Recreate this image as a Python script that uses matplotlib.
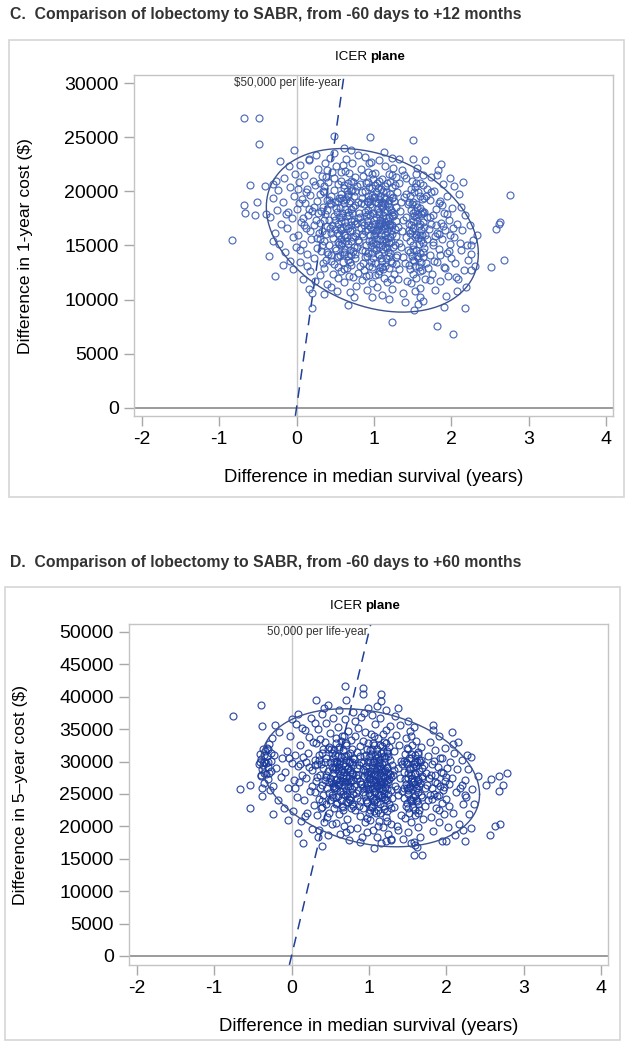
import numpy as np
import matplotlib
matplotlib.use("Agg")
import matplotlib.pyplot as plt
from matplotlib.patches import Rectangle

plt.rcParams['font.family'] = ['Liberation Sans', 'DejaVu Sans']

# ---- data: (difference in median survival [years], difference in cost [$k])

c_points = [
    # outliers
    (-0.68, 26.8), (-0.48, 26.8), (-0.49, 24.4), (0.49, 25.1), (0.95, 25.0), (1.51, 24.7),
    (-0.03, 23.8), (-0.21, 22.8), (0.16, 23.0), (-0.60, 20.6), (-0.41, 20.5), (-0.31, 20.7),
    (1.87, 22.5), (2.10, 19.8), (2.76, 19.7), (2.63, 17.2), (2.58, 16.5), (2.62, 17.0),
    (-0.83, 15.5), (-0.68, 18.7), (-0.66, 18.0), (-0.51, 19.0), (-0.53, 17.8), (-0.40, 17.9),
    (-0.36, 14.0), (-0.28, 12.2), (0.16, 11.0), (0.20, 9.2), (0.66, 9.5), (1.24, 7.9),
    (1.81, 7.6), (2.02, 6.8), (2.18, 9.2), (1.91, 9.3), (1.52, 9.0), (2.51, 13.0),
    (2.68, 13.7), (2.26, 12.7), (2.26, 15.0),
    # x -0.35..0
    (-0.34, 17.6), (-0.30, 19.4), (-0.28, 16.2), (-0.25, 18.3), (-0.24, 20.1), (-0.22, 15.1),
    (-0.20, 17.0), (-0.18, 19.0), (-0.16, 21.2), (-0.15, 14.4), (-0.12, 16.6), (-0.11, 18.1),
    (-0.09, 20.4), (-0.08, 13.6), (-0.06, 17.5), (-0.05, 15.8), (-0.03, 19.6), (-0.02, 21.6),
    (-0.01, 14.9), (-0.30, 15.4), (-0.26, 21.0), (-0.18, 13.2), (-0.10, 22.3), (-0.14, 17.9),
    (-0.04, 12.8),
    # x 0..0.3
    (0.01, 18.4), (0.02, 16.0), (0.03, 20.9), (0.04, 13.5), (0.05, 22.4), (0.06, 17.2),
    (0.07, 19.3), (0.08, 15.1), (0.09, 11.9), (0.10, 21.5), (0.11, 18.9), (0.12, 16.6),
    (0.13, 14.2), (0.14, 20.2), (0.15, 17.8), (0.16, 22.9), (0.17, 12.6), (0.18, 19.7),
    (0.19, 15.6), (0.20, 18.2), (0.21, 21.0), (0.22, 13.8), (0.23, 16.9), (0.24, 20.6),
    (0.25, 17.4), (0.26, 14.8), (0.27, 19.1), (0.28, 22.1), (0.29, 16.2), (0.30, 12.3),
    (0.03, 18.9), (0.08, 17.5), (0.12, 19.9), (0.18, 16.3), (0.22, 18.6), (0.27, 15.7),
    (0.05, 14.6), (0.14, 13.1), (0.20, 10.6), (0.25, 23.4), (0.10, 16.9), (0.16, 18.4),
    (0.28, 18.0), (0.02, 20.2), (0.24, 11.7),
    # x 0.3..0.55
    (0.31, 17.1), (0.31, 19.8), (0.32, 14.5), (0.33, 21.4), (0.33, 16.3), (0.34, 18.6),
    (0.35, 12.9), (0.35, 20.5), (0.36, 15.4), (0.37, 17.9), (0.37, 22.6), (0.38, 13.7),
    (0.39, 19.2), (0.39, 16.8), (0.40, 11.4), (0.40, 18.3), (0.41, 20.9), (0.42, 15.0),
    (0.42, 17.4), (0.43, 23.1), (0.44, 14.1), (0.44, 19.6), (0.45, 16.2), (0.45, 18.8),
    (0.46, 21.8), (0.47, 12.4), (0.47, 15.7), (0.48, 17.7), (0.48, 20.1), (0.49, 13.3),
    (0.50, 16.5), (0.50, 19.0), (0.51, 22.3), (0.51, 14.6), (0.52, 18.1), (0.52, 10.8),
    (0.53, 15.3), (0.53, 20.7), (0.54, 17.0), (0.54, 12.0), (0.55, 19.4), (0.55, 16.0),
    (0.32, 18.2), (0.34, 13.4), (0.36, 19.9), (0.38, 16.1), (0.41, 14.2), (0.43, 18.9),
    (0.46, 16.9), (0.49, 21.2), (0.52, 13.9), (0.30, 20.8), (0.44, 11.2), (0.48, 23.5),
    (0.40, 22.0), (0.36, 10.5), (0.50, 17.4), (0.45, 13.6), (0.38, 21.3), (0.33, 15.0),
    # x 0.55..0.8
    (0.56, 14.1), (0.56, 18.5), (0.57, 21.0), (0.57, 16.4), (0.58, 12.6), (0.58, 19.8),
    (0.59, 15.2), (0.59, 17.6), (0.60, 22.4), (0.60, 13.5), (0.61, 18.9), (0.61, 16.0),
    (0.62, 20.3), (0.62, 11.6), (0.63, 14.7), (0.63, 17.2), (0.64, 19.3), (0.64, 23.0),
    (0.65, 15.8), (0.65, 12.9), (0.66, 18.1), (0.66, 20.8), (0.67, 16.6), (0.67, 14.0),
    (0.68, 21.7), (0.68, 17.8), (0.69, 10.7), (0.69, 19.1), (0.70, 15.4), (0.70, 13.2),
    (0.71, 18.4), (0.71, 16.9), (0.72, 20.1), (0.72, 22.6), (0.73, 14.5), (0.73, 12.1),
    (0.74, 17.3), (0.74, 19.6), (0.75, 15.9), (0.75, 21.3), (0.76, 18.7), (0.76, 13.8),
    (0.77, 16.2), (0.77, 11.3), (0.78, 20.5), (0.78, 14.9), (0.79, 17.5), (0.79, 23.4),
    (0.80, 19.0), (0.80, 12.5), (0.57, 15.6), (0.60, 19.2), (0.63, 21.9), (0.66, 13.7),
    (0.69, 16.3), (0.72, 18.0), (0.75, 14.2), (0.78, 17.1), (0.58, 17.3), (0.61, 14.4),
    (0.64, 16.8), (0.67, 19.6), (0.70, 21.0), (0.73, 15.8), (0.76, 20.0), (0.79, 15.5),
    (0.62, 24.0), (0.74, 10.2), (0.68, 12.2), (0.71, 23.8),
    # x 0.8..1.0
    (0.81, 15.3), (0.81, 18.0), (0.82, 20.7), (0.82, 13.1), (0.83, 16.6), (0.83, 22.1),
    (0.84, 11.8), (0.84, 19.4), (0.85, 14.6), (0.85, 17.2), (0.86, 21.4), (0.86, 15.9),
    (0.87, 12.7), (0.87, 18.8), (0.88, 16.3), (0.88, 20.0), (0.89, 13.9), (0.89, 23.2),
    (0.90, 17.7), (0.90, 15.0), (0.91, 19.1), (0.91, 10.9), (0.92, 16.9), (0.92, 21.8),
    (0.93, 14.3), (0.93, 18.3), (0.94, 12.3), (0.94, 20.4), (0.95, 16.0), (0.95, 17.8),
    (0.96, 22.7), (0.96, 13.5), (0.97, 19.7), (0.97, 15.5), (0.98, 18.6), (0.98, 11.5),
    (0.99, 16.4), (0.99, 21.1), (1.00, 14.8), (1.00, 17.4), (0.82, 17.6), (0.85, 19.9),
    (0.88, 14.5), (0.91, 17.3), (0.94, 15.4), (0.97, 17.0), (1.00, 19.5), (0.84, 16.1),
    (0.87, 16.9), (0.90, 20.8), (0.93, 16.5), (0.96, 15.0), (0.99, 13.8), (0.86, 13.4),
    (0.92, 19.0), (0.98, 20.3), (0.83, 18.9), (0.89, 18.1), (0.95, 19.3), (0.90, 12.2),
    (0.94, 22.6), (0.97, 10.2),
    # x 1.0..1.3
    (1.01, 16.2), (1.01, 19.0), (1.02, 13.4), (1.02, 21.7), (1.03, 17.6), (1.03, 15.1),
    (1.04, 11.2), (1.04, 18.4), (1.05, 20.3), (1.05, 14.2), (1.06, 16.8), (1.06, 22.9),
    (1.07, 12.6), (1.07, 17.9), (1.08, 19.6), (1.08, 15.6), (1.09, 13.8), (1.09, 18.7),
    (1.10, 21.1), (1.10, 16.4), (1.11, 10.4), (1.11, 17.2), (1.12, 14.7), (1.12, 20.0),
    (1.13, 18.1), (1.13, 12.0), (1.14, 16.0), (1.14, 22.3), (1.15, 19.3), (1.15, 13.1),
    (1.16, 17.5), (1.16, 15.3), (1.17, 20.8), (1.17, 11.6), (1.18, 18.9), (1.18, 14.4),
    (1.19, 16.7), (1.19, 21.6), (1.20, 12.9), (1.20, 17.0), (1.21, 19.8), (1.21, 15.8),
    (1.22, 13.6), (1.22, 18.3), (1.23, 16.1), (1.23, 23.1), (1.24, 11.0), (1.24, 20.4),
    (1.25, 14.9), (1.25, 17.7), (1.26, 19.1), (1.26, 12.4), (1.27, 16.5), (1.27, 15.0),
    (1.28, 18.6), (1.28, 21.3), (1.29, 13.3), (1.29, 17.3), (1.30, 14.1), (1.30, 19.9),
    (1.02, 17.0), (1.05, 18.9), (1.08, 16.9), (1.11, 15.5), (1.14, 18.8), (1.17, 16.3),
    (1.20, 15.2), (1.23, 19.4), (1.26, 17.9), (1.29, 15.9), (1.03, 19.9), (1.06, 14.9),
    (1.09, 16.0), (1.12, 17.8), (1.15, 16.6), (1.18, 17.3), (1.21, 14.3), (1.24, 16.9),
    (1.27, 20.6), (1.04, 16.4), (1.10, 13.0), (1.16, 19.9), (1.22, 11.9), (1.28, 13.9),
    (1.07, 21.0), (1.13, 23.6), (1.19, 10.1), (1.25, 22.2),
    # x 1.3..1.45
    (1.31, 16.7), (1.32, 20.8), (1.33, 12.8), (1.34, 18.2), (1.35, 14.9), (1.36, 22.0),
    (1.37, 10.6), (1.38, 17.4), (1.39, 19.5), (1.40, 13.4), (1.41, 15.8), (1.42, 21.2),
    (1.43, 11.7), (1.44, 18.8), (1.32, 15.2), (1.35, 19.0), (1.38, 13.9), (1.41, 17.6),
    (1.44, 14.6), (1.33, 23.0), (1.40, 9.8), (1.36, 16.3), (1.42, 19.8), (1.31, 11.9),
    (1.39, 21.5),
    # x 1.45..1.7
    (1.46, 13.2), (1.46, 17.0), (1.47, 19.6), (1.47, 15.4), (1.48, 11.5), (1.48, 18.3),
    (1.49, 14.0), (1.49, 21.0), (1.50, 16.6), (1.50, 12.4), (1.51, 19.0), (1.51, 15.0),
    (1.52, 17.7), (1.52, 13.6), (1.53, 20.4), (1.53, 10.8), (1.54, 16.1), (1.54, 18.8),
    (1.55, 14.6), (1.55, 12.0), (1.56, 17.3), (1.56, 22.2), (1.57, 15.7), (1.57, 19.9),
    (1.58, 13.0), (1.58, 16.8), (1.59, 18.5), (1.59, 11.1), (1.60, 14.3), (1.60, 20.8),
    (1.61, 16.4), (1.61, 17.9), (1.62, 12.7), (1.62, 19.3), (1.63, 15.2), (1.63, 13.9),
    (1.64, 17.2), (1.64, 21.5), (1.65, 14.8), (1.65, 18.1), (1.66, 11.9), (1.66, 16.0),
    (1.67, 19.6), (1.67, 13.4), (1.68, 15.6), (1.68, 17.6), (1.69, 20.2), (1.70, 12.9),
    (1.47, 16.2), (1.50, 18.0), (1.53, 15.8), (1.56, 14.0), (1.59, 16.0), (1.62, 18.2),
    (1.65, 16.7), (1.48, 20.2), (1.54, 21.6), (1.60, 10.2), (1.57, 9.6), (1.63, 9.9),
    (1.51, 23.0), (1.66, 22.9),
    # x 1.7..2.0
    (1.71, 16.5), (1.72, 19.2), (1.73, 14.1), (1.74, 21.3), (1.75, 12.4), (1.76, 17.8),
    (1.77, 15.3), (1.78, 20.0), (1.79, 10.9), (1.80, 18.4), (1.81, 13.5), (1.82, 16.2),
    (1.83, 22.0), (1.84, 14.7), (1.85, 19.1), (1.86, 11.7), (1.87, 17.1), (1.88, 15.6),
    (1.89, 20.7), (1.90, 13.0), (1.91, 18.0), (1.92, 16.4), (1.93, 10.3), (1.94, 14.3),
    (1.95, 19.6), (1.96, 12.2), (1.97, 17.4), (1.98, 15.1), (1.99, 21.2), (2.00, 13.8),
    (1.74, 17.0), (1.79, 15.9), (1.84, 18.9), (1.89, 16.8), (1.94, 17.9), (1.99, 16.0),
    (1.72, 11.8), (1.82, 21.5), (1.92, 12.9), (1.97, 14.5),
    # x 2.0..2.35
    (2.01, 18.5), (2.03, 15.8), (2.05, 13.4), (2.07, 17.0), (2.09, 11.9), (2.12, 14.6),
    (2.14, 16.4), (2.16, 12.7), (2.18, 17.8), (2.20, 15.0), (2.22, 13.7), (2.24, 16.9),
    (2.26, 14.2), (2.28, 15.5), (2.31, 13.1), (2.33, 16.0), (2.04, 20.5), (2.08, 10.8),
    (2.13, 18.6), (2.19, 11.2), (2.02, 16.6), (2.11, 15.2), (2.06, 12.1), (2.15, 20.9),
]

# the darker cores of the 1-year cloud
c_points_core = [
    (0.91, 14.0), (0.92, 17.9), (0.93, 20.9), (0.94, 13.1), (0.95, 18.8), (0.96, 16.7),
    (0.97, 21.6), (0.98, 14.3), (0.99, 18.0), (1.00, 16.0), (1.01, 12.3), (1.02, 19.5),
    (1.03, 14.6), (1.04, 20.8), (1.05, 16.5), (1.06, 18.1), (1.07, 14.1), (1.08, 17.4),
    (1.09, 20.2), (1.10, 15.0), (1.11, 18.6), (1.12, 12.8), (1.13, 16.8), (1.14, 14.9),
    (1.15, 20.5), (1.16, 13.8), (1.17, 18.2), (1.18, 15.7), (1.19, 19.2), (1.20, 18.6),
    (1.21, 16.9), (1.22, 15.3), (1.23, 17.8), (1.24, 13.4), (1.25, 19.5), (1.04, 15.6),
    (1.08, 13.0), (1.12, 18.9), (1.16, 16.9), (1.20, 14.0), (1.24, 18.1), (0.93, 19.6),
    (0.97, 13.0), (1.01, 20.6), (1.05, 12.4), (1.09, 17.0), (1.13, 19.5), (1.17, 14.8),
    (1.21, 20.9), (1.03, 16.3), (1.07, 19.3), (1.11, 13.6), (1.15, 15.6), (1.19, 17.6),
    (1.23, 21.5), (0.99, 15.2), (1.06, 17.1), (1.14, 17.2), (1.22, 16.4), (1.10, 19.0),
    (0.50, 14.8), (0.51, 18.5), (0.52, 16.2), (0.53, 19.1), (0.54, 14.0), (0.55, 17.6),
    (0.56, 16.6), (0.57, 19.4), (0.58, 15.0), (0.59, 18.0), (0.60, 16.7), (0.61, 20.6),
    (0.62, 14.2), (0.63, 18.4), (0.64, 15.4), (0.65, 17.7), (0.66, 19.8), (0.67, 15.1),
    (0.68, 18.9), (0.69, 14.6), (0.70, 17.3), (0.71, 20.0), (0.72, 16.4), (0.73, 18.6),
    (0.74, 14.9), (0.75, 17.0), (0.53, 13.0), (0.57, 21.8), (0.61, 12.8), (0.65, 20.0),
    (0.69, 13.5), (0.73, 20.9), (0.55, 15.1), (0.63, 16.0), (0.71, 14.1),
    (1.45, 16.4), (1.46, 19.0), (1.47, 14.4), (1.48, 16.9), (1.49, 18.8), (1.50, 14.7),
    (1.51, 17.3), (1.52, 19.9), (1.53, 13.1), (1.54, 17.6), (1.55, 16.0), (1.56, 18.6),
    (1.57, 13.8), (1.58, 15.1), (1.59, 19.6), (1.60, 17.0), (1.61, 13.5), (1.62, 16.0),
    (1.63, 18.0), (1.64, 14.4), (1.49, 16.3), (1.53, 18.2), (1.57, 17.9), (1.61, 15.5),
    (1.47, 12.8), (1.55, 20.8), (1.63, 20.6), (1.51, 13.7), (1.59, 12.6), (1.65, 19.4),
    (0.31, 15.6), (0.35, 17.4), (0.39, 14.4), (0.43, 16.6), (0.34, 20.0), (0.42, 19.2),
    (1.72, 17.6), (1.76, 15.0), (1.80, 16.9), (1.84, 16.1), (1.88, 18.7), (1.78, 13.6),
    (1.86, 14.1), (1.74, 19.9),
]

d_points = [
    # outliers
    (-0.75, 37.0), (-0.40, 38.7), (-0.38, 35.5), (0.69, 41.6), (0.92, 41.4), (0.92, 40.5),
    (1.16, 40.4), (1.16, 39.4), (0.32, 39.5), (0.71, 39.5), (1.38, 38.2), (0.47, 38.7),
    (0.08, 37.3), (-0.67, 25.8), (-0.53, 26.4), (-0.53, 22.8), (-0.38, 24.7), (-0.24, 21.9),
    (0.15, 17.4), (0.40, 17.0), (1.07, 16.6), (1.58, 15.6), (1.69, 15.6), (2.24, 17.8),
    (2.57, 18.7), (2.63, 20.0), (2.69, 20.4), (2.32, 19.7), (2.32, 30.7), (2.58, 27.3),
    (2.68, 27.8), (2.78, 28.3), (2.73, 26.4), (2.68, 25.4), (2.51, 26.4), (2.41, 27.8),
    (2.24, 24.8), (2.09, 32.7), (1.83, 34.9), (2.20, 26.4), (1.94, 17.7), (2.00, 17.7),
    (1.22, 17.7), (1.29, 18.1), (1.54, 17.4), (1.60, 17.2),
    # x -0.42..-0.1
    (-0.42, 29.6), (-0.41, 31.2), (-0.40, 27.8), (-0.39, 30.4), (-0.38, 28.9), (-0.37, 32.0),
    (-0.36, 26.7), (-0.35, 29.9), (-0.34, 31.6), (-0.33, 28.1), (-0.32, 30.8), (-0.31, 27.3),
    (-0.30, 29.2), (-0.29, 32.7), (-0.28, 25.6), (-0.27, 30.1), (-0.26, 28.5), (-0.25, 33.6),
    (-0.24, 26.2), (-0.22, 31.0), (-0.20, 29.0), (-0.18, 24.1), (-0.16, 34.5), (-0.14, 27.6),
    (-0.12, 30.5), (-0.10, 22.8), (-0.36, 30.0), (-0.30, 31.9), (-0.38, 26.0), (-0.21, 35.6),
    # x -0.1..0.3
    (-0.08, 28.4), (-0.06, 31.7), (-0.04, 25.9), (-0.02, 33.9), (0.00, 29.8), (0.02, 22.4),
    (0.03, 27.1), (0.04, 31.0), (0.06, 35.8), (0.07, 24.6), (0.08, 29.3), (0.10, 26.8),
    (0.11, 32.6), (0.12, 20.9), (0.14, 28.0), (0.15, 30.7), (0.16, 24.0), (0.18, 34.8),
    (0.19, 27.5), (0.20, 22.0), (0.21, 31.4), (0.22, 29.1), (0.24, 25.5), (0.25, 36.7),
    (0.26, 19.6), (0.27, 28.7), (0.28, 33.0), (0.29, 23.3), (0.30, 30.2), (-0.05, 21.0),
    (0.01, 36.5), (0.09, 19.0), (0.13, 35.2), (0.17, 21.6), (0.23, 33.8), (0.05, 26.0),
    (0.19, 30.0), (0.27, 26.3), (-0.03, 30.6), (0.11, 29.6),
    # x 0.3..0.55
    (0.31, 25.3), (0.31, 29.4), (0.32, 32.8), (0.33, 21.7), (0.33, 27.6), (0.34, 35.1),
    (0.35, 24.2), (0.35, 30.3), (0.36, 19.4), (0.37, 28.0), (0.37, 33.5), (0.38, 22.8),
    (0.39, 26.4), (0.39, 31.4), (0.40, 37.4), (0.41, 24.9), (0.41, 29.0), (0.42, 20.6),
    (0.43, 27.1), (0.43, 33.0), (0.44, 23.5), (0.45, 30.6), (0.45, 35.9), (0.46, 26.0),
    (0.47, 18.6), (0.47, 28.5), (0.48, 32.2), (0.49, 22.1), (0.49, 25.2), (0.50, 29.9),
    (0.50, 34.4), (0.51, 27.0), (0.52, 20.3), (0.52, 31.3), (0.53, 24.5), (0.53, 28.2),
    (0.54, 36.8), (0.55, 22.9), (0.55, 30.0), (0.32, 27.0), (0.36, 31.0), (0.40, 23.0),
    (0.44, 28.0), (0.48, 26.9), (0.52, 29.1), (0.34, 18.3), (0.42, 38.2), (0.46, 21.4),
    (0.50, 24.0), (0.38, 29.7), (0.54, 26.3), (0.30, 36.0), (0.47, 31.9),
    # x 0.55..0.8
    (0.56, 26.1), (0.56, 31.0), (0.57, 23.4), (0.57, 28.8), (0.58, 33.6), (0.58, 20.5),
    (0.59, 27.3), (0.59, 30.0), (0.60, 24.7), (0.60, 35.4), (0.61, 29.1), (0.61, 21.9),
    (0.62, 26.6), (0.62, 32.2), (0.63, 18.9), (0.63, 28.0), (0.64, 30.7), (0.64, 24.0),
    (0.65, 27.0), (0.65, 34.0), (0.66, 22.6), (0.66, 29.6), (0.67, 25.5), (0.67, 31.8),
    (0.68, 20.0), (0.68, 28.4), (0.69, 36.6), (0.69, 26.9), (0.70, 23.7), (0.70, 30.3),
    (0.71, 27.8), (0.71, 32.9), (0.72, 21.2), (0.72, 25.0), (0.73, 29.0), (0.73, 34.7),
    (0.74, 24.3), (0.74, 27.5), (0.75, 31.4), (0.75, 19.6), (0.76, 26.3), (0.76, 29.9),
    (0.77, 22.9), (0.77, 33.3), (0.78, 28.3), (0.78, 25.8), (0.79, 30.6), (0.79, 37.6),
    (0.80, 23.1), (0.80, 27.2), (0.57, 26.0), (0.60, 28.5), (0.63, 30.1), (0.66, 27.4),
    (0.69, 24.9), (0.72, 28.8), (0.75, 26.8), (0.78, 30.0), (0.58, 24.6), (0.61, 31.9),
    (0.64, 28.6), (0.67, 23.0), (0.70, 27.4), (0.73, 26.2), (0.76, 28.7), (0.79, 25.0),
    (0.62, 38.0), (0.74, 17.9), (0.68, 33.9), (0.71, 19.2),
    # x 0.8..1.0
    (0.81, 26.2), (0.81, 30.4), (0.82, 22.5), (0.82, 33.9), (0.83, 28.0), (0.84, 24.4),
    (0.84, 31.5), (0.85, 19.8), (0.85, 27.4), (0.86, 35.2), (0.86, 25.6), (0.87, 29.5),
    (0.88, 21.6), (0.88, 32.4), (0.89, 27.0), (0.89, 23.9), (0.90, 30.0), (0.90, 36.9),
    (0.91, 18.4), (0.91, 26.5), (0.92, 28.9), (0.92, 33.1), (0.93, 22.8), (0.93, 25.3),
    (0.94, 30.9), (0.94, 27.7), (0.95, 20.6), (0.95, 34.6), (0.96, 26.0), (0.96, 29.3),
    (0.97, 23.6), (0.97, 31.9), (0.98, 28.4), (0.98, 21.3), (0.99, 25.8), (0.99, 38.3),
    (1.00, 27.3), (1.00, 30.7), (0.83, 25.1), (0.86, 27.9), (0.89, 30.9), (0.92, 25.9),
    (0.95, 28.5), (0.98, 26.7), (0.84, 29.0), (0.87, 23.2), (0.90, 26.6), (0.93, 29.8),
    (0.96, 24.1), (0.99, 29.9), (0.82, 36.3), (0.88, 17.6), (0.94, 37.5), (0.97, 19.1),
    # x 1.0..1.3
    (1.01, 24.8), (1.01, 28.6), (1.02, 31.8), (1.02, 21.0), (1.03, 26.7), (1.03, 34.3),
    (1.04, 23.2), (1.04, 29.4), (1.05, 27.1), (1.05, 19.5), (1.06, 32.5), (1.06, 25.3),
    (1.07, 30.1), (1.07, 22.4), (1.08, 28.0), (1.08, 35.8), (1.09, 24.2), (1.09, 26.9),
    (1.10, 31.1), (1.10, 18.3), (1.11, 29.0), (1.11, 23.7), (1.12, 27.5), (1.12, 33.6),
    (1.13, 20.8), (1.13, 25.9), (1.14, 30.4), (1.14, 28.3), (1.15, 22.0), (1.15, 36.8),
    (1.16, 26.4), (1.16, 31.4), (1.17, 24.6), (1.17, 29.7), (1.18, 19.9), (1.18, 27.8),
    (1.19, 33.0), (1.19, 25.1), (1.20, 30.8), (1.20, 22.7), (1.21, 28.7), (1.21, 26.1),
    (1.22, 34.9), (1.22, 21.5), (1.23, 27.2), (1.23, 31.6), (1.24, 24.0), (1.24, 29.2),
    (1.25, 18.8), (1.25, 26.8), (1.26, 32.3), (1.26, 23.4), (1.27, 28.1), (1.27, 30.2),
    (1.28, 25.6), (1.28, 20.4), (1.29, 27.6), (1.29, 33.4), (1.30, 24.4), (1.30, 29.5),
    (1.02, 27.4), (1.05, 29.9), (1.08, 25.5), (1.11, 26.3), (1.14, 24.9), (1.17, 27.0),
    (1.20, 26.9), (1.23, 25.7), (1.26, 27.3), (1.29, 22.9), (1.03, 23.0), (1.06, 28.8),
    (1.09, 30.6), (1.12, 22.6), (1.15, 29.3), (1.18, 31.7), (1.21, 24.3), (1.24, 27.9),
    (1.27, 35.5), (1.04, 37.2), (1.10, 38.6), (1.16, 17.4), (1.22, 38.0), (1.28, 17.9),
    (1.07, 26.0), (1.13, 28.9), (1.19, 28.4), (1.25, 30.9),
    # x 1.3..1.45
    (1.31, 27.9), (1.32, 31.6), (1.33, 23.0), (1.34, 26.2), (1.35, 34.1), (1.36, 20.1),
    (1.37, 29.0), (1.38, 24.8), (1.39, 32.5), (1.40, 27.4), (1.41, 21.8), (1.42, 30.1),
    (1.43, 25.4), (1.44, 18.1), (1.32, 28.7), (1.36, 25.7), (1.40, 35.6), (1.43, 29.6),
    (1.34, 37.0), (1.38, 19.5),
    # x 1.45..1.75
    (1.46, 24.4), (1.46, 28.4), (1.47, 31.2), (1.47, 21.3), (1.48, 26.6), (1.48, 33.7),
    (1.49, 23.6), (1.49, 29.7), (1.50, 27.5), (1.50, 19.2), (1.51, 31.9), (1.51, 25.0),
    (1.52, 28.9), (1.52, 22.1), (1.53, 26.3), (1.53, 34.7), (1.54, 30.5), (1.54, 24.1),
    (1.55, 27.9), (1.55, 20.7), (1.56, 32.6), (1.56, 25.7), (1.57, 29.2), (1.57, 23.0),
    (1.58, 27.0), (1.58, 17.6), (1.59, 31.0), (1.59, 24.7), (1.60, 28.1), (1.60, 21.7),
    (1.61, 26.0), (1.61, 33.2), (1.62, 29.9), (1.62, 23.9), (1.63, 27.3), (1.63, 19.9),
    (1.64, 31.5), (1.64, 25.3), (1.65, 28.6), (1.65, 22.5), (1.66, 26.7), (1.67, 30.3),
    (1.68, 24.6), (1.69, 27.7), (1.70, 21.2), (1.71, 29.4), (1.72, 25.9), (1.73, 23.2),
    (1.74, 28.2), (1.75, 26.4), (1.48, 30.0), (1.52, 25.9), (1.56, 27.4), (1.60, 30.0),
    (1.64, 27.0), (1.68, 29.0), (1.50, 36.2), (1.58, 35.4), (1.66, 18.4), (1.62, 16.8),
    # x 1.75..2.05
    (1.76, 30.9), (1.77, 24.0), (1.78, 27.5), (1.79, 33.0), (1.80, 21.5), (1.81, 26.0),
    (1.82, 29.6), (1.83, 19.3), (1.84, 25.0), (1.85, 31.8), (1.86, 27.9), (1.87, 22.8),
    (1.88, 24.7), (1.89, 29.1), (1.90, 33.9), (1.91, 20.7), (1.92, 26.3), (1.93, 28.4),
    (1.94, 23.6), (1.95, 30.6), (1.96, 25.6), (1.97, 21.9), (1.98, 27.0), (1.99, 32.1),
    (2.00, 24.2), (2.01, 29.0), (2.02, 19.9), (2.03, 26.5), (2.04, 23.1), (2.05, 30.0),
    (1.79, 24.9), (1.85, 26.9), (1.91, 24.8), (1.97, 26.1), (1.83, 35.7),
    # x 2.05..2.4
    (2.07, 27.4), (2.09, 22.0), (2.10, 31.3), (2.12, 25.3), (2.14, 28.9), (2.16, 20.4),
    (2.18, 26.0), (2.20, 30.2), (2.22, 23.5), (2.24, 27.1), (2.26, 24.6), (2.28, 28.8),
    (2.30, 21.9), (2.33, 25.8), (2.36, 23.4), (2.11, 18.6), (2.15, 33.0), (2.21, 19.4),
    (2.27, 31.0), (2.08, 34.6),
]

# the darker cores of the 5-year cloud
d_points_core = [
    (0.95, 24.9), (0.96, 31.0), (0.97, 27.9), (0.98, 23.7), (0.99, 32.8), (1.00, 25.2),
    (1.01, 30.0), (1.02, 22.6), (1.03, 28.2), (1.04, 26.0), (1.05, 32.9), (1.06, 23.8),
    (1.07, 28.1), (1.08, 30.9), (1.09, 22.0), (1.10, 26.4), (1.11, 31.9), (1.12, 24.8),
    (1.13, 29.9), (1.14, 26.6), (1.15, 23.4), (1.16, 28.9), (1.17, 32.4), (1.18, 25.6),
    (1.19, 23.1), (1.20, 28.5), (1.21, 30.5), (1.22, 26.6), (1.23, 22.3), (1.24, 31.3),
    (1.25, 25.0), (0.97, 26.4), (1.01, 26.8), (1.05, 24.4), (1.09, 28.6), (1.13, 27.0),
    (1.17, 26.0), (1.21, 27.6), (1.25, 28.3), (0.99, 28.1), (1.03, 31.2), (1.07, 24.0),
    (1.11, 27.7), (1.15, 26.9), (1.19, 30.0), (1.23, 29.0), (1.00, 22.0), (1.06, 34.0),
    (1.12, 20.0), (1.18, 34.3), (1.24, 20.9), (1.02, 25.7), (1.08, 27.1), (1.14, 32.6),
    (1.20, 24.6), (1.10, 29.3), (1.16, 24.9), (1.04, 31.9), (1.22, 32.9), (1.12, 30.7),
    (0.50, 27.5), (0.51, 31.9), (0.52, 24.9), (0.53, 30.6), (0.54, 28.8), (0.55, 25.9),
    (0.56, 29.2), (0.57, 32.9), (0.58, 27.1), (0.59, 23.6), (0.60, 30.9), (0.61, 26.9),
    (0.62, 29.6), (0.63, 25.4), (0.64, 33.1), (0.65, 28.9), (0.66, 25.0), (0.67, 28.0),
    (0.68, 30.9), (0.69, 29.3), (0.70, 25.6), (0.71, 30.8), (0.72, 27.0), (0.73, 23.8),
    (0.74, 29.9), (0.75, 28.4), (0.76, 24.6), (0.77, 27.0), (0.78, 32.0), (0.79, 28.1),
    (0.55, 31.8), (0.60, 26.4), (0.65, 23.1), (0.70, 32.6), (0.75, 24.1), (0.80, 29.5),
    (0.53, 26.7), (0.63, 27.1), (0.73, 31.0), (0.58, 29.9), (0.68, 26.3), (0.78, 23.5),
    (1.45, 26.0), (1.46, 30.1), (1.47, 27.3), (1.48, 23.1), (1.49, 32.1), (1.50, 25.6),
    (1.51, 28.3), (1.52, 30.6), (1.53, 24.3), (1.54, 27.0), (1.55, 31.2), (1.56, 23.9),
    (1.57, 26.8), (1.58, 29.6), (1.59, 22.6), (1.60, 26.6), (1.61, 29.3), (1.62, 25.9),
    (1.63, 31.1), (1.64, 23.4), (1.65, 26.2), (1.66, 29.9), (1.67, 24.9), (1.68, 27.4),
    (1.49, 26.0), (1.53, 29.0), (1.57, 24.6), (1.61, 24.0), (1.65, 30.3), (1.51, 22.9),
    (1.55, 34.0), (1.59, 28.3), (1.63, 22.0), (1.67, 32.2),
    (-0.41, 30.0), (-0.39, 28.0), (-0.37, 29.5), (-0.35, 31.0), (-0.33, 29.8), (-0.31, 30.0),
    (-0.29, 28.2), (-0.27, 31.4), (-0.36, 28.3), (-0.32, 32.1), (0.33, 29.6), (0.37, 25.9),
    (0.41, 31.9), (0.45, 27.6), (0.39, 23.9), (0.43, 29.9), (1.80, 28.0), (1.84, 30.1),
    (1.88, 26.7), (1.92, 30.5), (1.96, 28.2), (1.82, 24.2), (1.90, 22.6), (2.00, 27.6),
]

# ellipse: centre, half-widths (x years, y $), correlation
c_ellipse_center = [0.98, 16400]
c_ellipse_sd = [1.37, 7550]
c_ellipse_corr = -0.285
d_ellipse_center = [1.02, 27500]
d_ellipse_sd = [1.41, 10650]
d_ellipse_corr = -0.24

wtp_threshold = 50000   # $ per life-year

x_ticks = [-2, -1, 0, 1, 2, 3, 4]
c_y_ticks = [0, 5000, 10000, 15000, 20000, 25000, 30000]
d_y_ticks = list(range(0, 50001, 5000))

c_title = "C.  Comparison of lobectomy to SABR, from -60 days to +12 months"
d_title = "D.  Comparison of lobectomy to SABR, from -60 days to +60 months"

W, H = 632, 1049
fig = plt.figure(figsize=(W / 100, H / 100), dpi=100)

FRAME = '#c4c4c4'


def px_rect(l, t, r, b):
    return [l / W, 1 - b / H, (r - l) / W, (b - t) / H]


def panel(rect, box, title, title_y, pts, center, sd, corr, ylim, yticks,
          ylabel, wtp_label, mark_color):
    # outer grey box
    fig.add_artist(Rectangle((box[0] / W, 1 - box[3] / H),
                             (box[2] - box[0]) / W, (box[3] - box[1]) / H,
                             transform=fig.transFigure, fill=False,
                             edgecolor='#d6d6d6', linewidth=1.2))
    fig.text(10 / W, 1 - title_y / H, title, fontsize=11.3, fontweight='bold',
             color='#333333', va='center', ha='left')

    ax = fig.add_axes(px_rect(*rect))
    pts = np.array(pts)
    xs, ys = pts[:, 0], pts[:, 1] * 1000

    ax.axvline(0, color='#c8c8c8', linewidth=1.0, zorder=1)
    ax.axhline(0, color='#8a8a8a', linewidth=1.2, zorder=1)

    # willingness-to-pay line
    yl = np.array(ylim)
    ax.plot(yl / wtp_threshold, yl, color='#1f3f99', linewidth=1.1,
            dashes=(7, 5), zorder=2)

    ax.plot(xs, ys, linestyle='none', marker='o', markersize=5.0,
            markerfacecolor='none', markeredgecolor=mark_color,
            markeredgewidth=0.85, alpha=0.9, zorder=3)

    # ellipse
    cov = np.array([[sd[0] ** 2, corr * sd[0] * sd[1]],
                    [corr * sd[0] * sd[1], sd[1] ** 2]])
    L = np.linalg.cholesky(cov)
    t = np.linspace(0, 2 * np.pi, 300)
    e = L @ np.vstack([np.cos(t), np.sin(t)])
    ax.plot(center[0] + e[0], center[1] + e[1], color='#3c5290',
            linewidth=1.0, zorder=4)

    ax.annotate(wtp_label, xy=(ylim[1] / wtp_threshold, ylim[1]),
                xytext=(-3, -8), textcoords='offset pixels',
                ha='right', va='center', fontsize=8.4, color='#333333')

    ax.set_xlim(-2.1, 4.09)
    ax.set_ylim(*ylim)
    ax.set_xticks(x_ticks)
    ax.set_xticklabels([str(v) for v in x_ticks])
    ax.set_yticks(yticks)
    ax.set_yticklabels([str(v) for v in yticks])
    ax.tick_params(direction='out', length=7, width=1, color='#a8a8a8',
                   labelsize=14, pad=4)
    for s in ax.spines.values():
        s.set_color(FRAME)
        s.set_linewidth(1.0)

    ax.set_xlabel('Difference in median survival (years)', fontsize=13.3)
    ax.set_ylabel(ylabel, fontsize=12.6)
    ax.xaxis.set_label_coords(0.5, -0.155)
    ax.yaxis.set_label_coords(-0.211, 0.5)

    cx = (rect[0] + rect[2]) / 2 - 3
    fig.text(cx / W, 1 - (rect[1] - 18) / H, 'ICER ', fontsize=9.6,
             ha='right', va='center')
    fig.text(cx / W, 1 - (rect[1] - 18) / H, 'plane', fontsize=9.6,
             fontweight='bold', ha='left', va='center')
    return ax


panel((134, 75, 613, 416), (9, 40, 624, 497), c_title, 15,
      c_points + c_points_core,
      c_ellipse_center, c_ellipse_sd, c_ellipse_corr, (-740, 30740),
      c_y_ticks, 'Difference in 1-year cost ($)', '$50,000 per life-year',
      '#3a5cb4')

panel((129, 624, 608, 965), (5, 587, 620, 1040), d_title, 563,
      d_points + d_points_core,
      d_ellipse_center, d_ellipse_sd, d_ellipse_corr, (-1390, 51230),
      d_y_ticks, 'Difference in 5\u2013year cost ($)', '50,000 per life-year',
      '#1a3a9c')

fig.savefig('out.png', dpi=100)
